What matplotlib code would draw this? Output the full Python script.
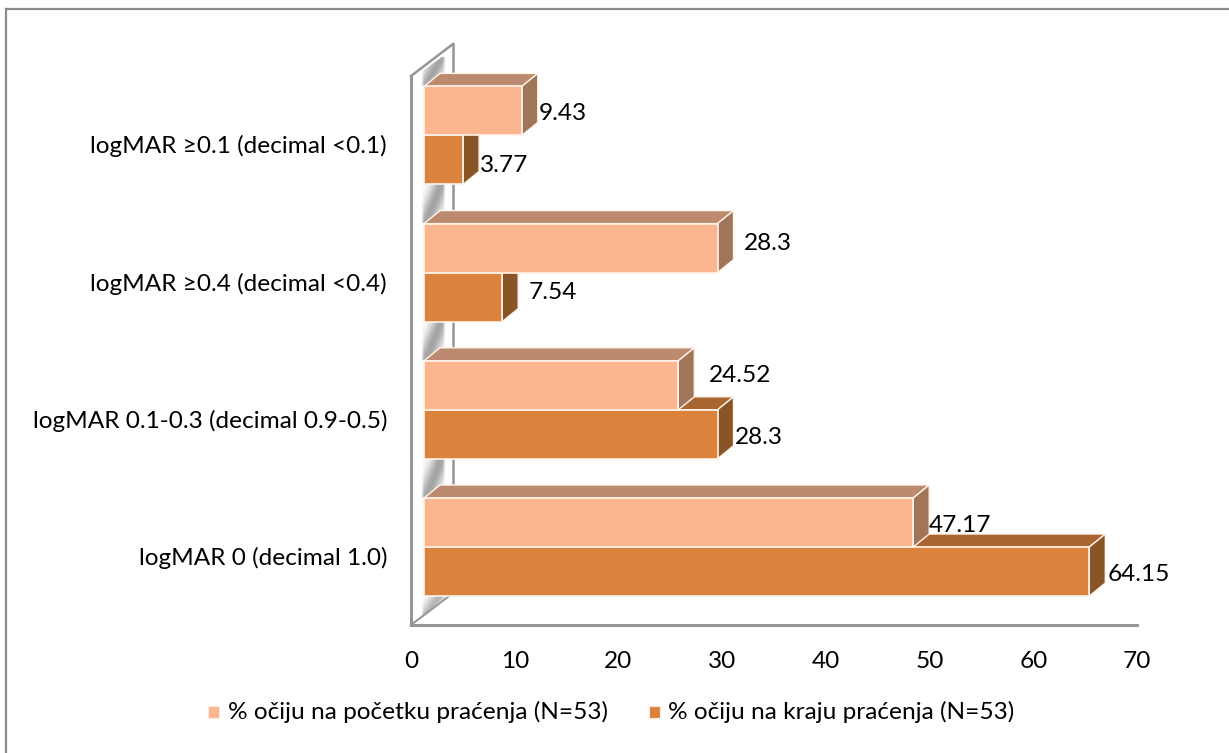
import numpy as np
import matplotlib
matplotlib.use('Agg')
import matplotlib.pyplot as plt
from matplotlib.patches import Polygon, Rectangle

plt.rcParams['font.family'] = ['Lato', 'DejaVu Sans']

categories = ['logMAR 0 (decimal 1.0)', 'logMAR 0.1-0.3 (decimal 0.9-0.5)',
              'logMAR ≥0.4 (decimal <0.4)', 'logMAR ≥0.1 (decimal <0.1)']
start_values = [47.17, 24.52, 28.3, 9.43]
end_values = [64.15, 28.3, 7.54, 3.77]
start_label = '% očiju na početku praćenja (N=53)'
end_label = '% očiju na kraju praćenja (N=53)'
x_ticks = [0, 10, 20, 30, 40, 50, 60, 70]

W, H = 1229, 753
FS = 17.6
fig = plt.figure(figsize=(W / 100, H / 100), dpi=100)
fig.patch.set_facecolor('white')
# only the top and left edges of the chart frame are in the crop
fig.add_artist(plt.Line2D([6.5 / W, 6.5 / W], [0, 1 - 8.5 / H], color='#8c8c8c', lw=1.6))
fig.add_artist(plt.Line2D([6.5 / W, 1], [1 - 8.5 / H, 1 - 8.5 / H], color='#8c8c8c', lw=1.6))

# axes box runs from the x axis line up to the top corner of the wall
ax_left, ax_right, ax_top, ax_bottom = 411, 1137, 44, 625
ax = fig.add_axes([ax_left / W, 1 - ax_bottom / H, (ax_right - ax_left) / W, (ax_bottom - ax_top) / H])
ax.set_xlim(0, 70)
group_px = 137.2
ylo, yhi = (547 - ax_bottom) / group_px, (547 - ax_top) / group_px
ax.set_ylim(ylo, yhi)
ax.axis('off')

px_x = 70 / (ax_right - ax_left)
px_y = 1 / group_px
x_off = 13 * px_x          # front plane of the bars sits this far from the wall
dx, dy = 16 * px_x, 13 * px_y
bar_h = 49 * px_y
wall_c = '#969696'
wall_d = 42 * px_x
wall_up = 32 * px_y


def shadow(y0, y1, clip=None, peak=0.62):
    # soft grey band on the wall behind the bars, y0 and y1 in data units
    x0, x1 = 10 * px_x, 35 * px_x
    u, v = np.meshgrid(np.linspace(0, 1, 40), np.linspace(0, 1, 40))
    ridge = 0.2 + 0.62 * v
    alpha = peak * np.exp(-((u - ridge) / 0.4) ** 2) * np.clip((1 - u) * 9, 0, 1) * np.clip(u * 9, 0, 1)
    rgba = np.zeros((40, 40, 4))
    rgba[..., :3] = 0.42
    rgba[..., 3] = alpha
    im = ax.imshow(rgba, extent=(x0, x1, y0, y1), aspect='auto', origin='lower', zorder=1,
                   interpolation='bilinear')
    if clip is not None:
        patch = Polygon(clip, closed=True, transform=ax.transData)
        im.set_clip_path(patch)


ax.add_patch(Polygon([(0, ylo), (wall_d, ylo + wall_up), (wall_d, yhi), (0, yhi - wall_up)],
                     closed=True, fc='white', ec='none', zorder=0))
for i in range(len(categories) - 1):
    shadow(i + 0.36, i + 0.64)
shadow(3 + bar_h, yhi - 14 * px_y,
       clip=[(10 * px_x, 3 + bar_h), (35 * px_x, 3 + bar_h), (35 * px_x, yhi - 10 * px_y), (10 * px_x, yhi - 28 * px_y)])
shadow(ylo + 8 * px_y, -bar_h + 1 * px_y, peak=0.5,
       clip=[(10 * px_x, -bar_h), (35 * px_x, -bar_h), (10 * px_x, ylo + 8 * px_y)])
ax.set_xlim(0, 70)
ax.set_ylim(ylo, yhi)
ax.plot([wall_d, wall_d], [ylo + wall_up, yhi], color=wall_c, lw=1.8, zorder=1.5, clip_on=False)
ax.plot([0, wall_d], [yhi - wall_up, yhi], color=wall_c, lw=1.8, zorder=1.5, clip_on=False)
ax.plot([0, 0], [ylo, yhi - wall_up], color=wall_c, lw=2.2, zorder=1.5, clip_on=False)
ax.plot([0, wall_d], [ylo, ylo + wall_up], color=wall_c, lw=1.5, zorder=1.5, clip_on=False)
ax.plot([0, 70], [ylo, ylo], color=wall_c, lw=2.2, zorder=1.5, clip_on=False)


def bar3d(y, value, front, top, side, z):
    x0 = x_off
    x1 = x_off + value
    ybot, ytop = y - bar_h, y
    ax.barh(ybot, value, height=bar_h, left=x0, align='edge', color=front, ec='#fff3ea', lw=1.2, zorder=z + 0.2)
    ax.add_patch(Polygon([(x0, ytop), (x0 + dx, ytop + dy), (x1 + dx, ytop + dy), (x1, ytop)],
                         closed=True, fc=top, ec='#fff3ea', lw=1.0, zorder=z))
    ax.add_patch(Polygon([(x1, ybot), (x1 + dx, ybot + dy), (x1 + dx, ytop + dy), (x1, ytop)],
                         closed=True, fc=side, ec='#fff3ea', lw=1.0, zorder=z + 0.1))


for i in range(len(categories)):
    bar3d(i, end_values[i], '#db823c', '#a8652f', '#8a5526', 2)
    bar3d(i + bar_h, start_values[i], '#fbb58f', '#bc8a6e', '#a07558', 3)

# value labels sit at their own small offsets in the original, in pixels
start_shift = [(16, -3), (31, 10), (26, 5), (17, -3)]
end_shift = [(18, -3), (17, -3), (26, 5), (17, -6)]
for i in range(len(categories)):
    ax.annotate(str(start_values[i]), (x_off + start_values[i], i + bar_h / 2),
                xytext=(start_shift[i][0] * 0.72, start_shift[i][1] * 0.72), textcoords='offset points',
                fontsize=FS, color='black', va='center', ha='left', zorder=5)
    ax.annotate(str(end_values[i]), (x_off + end_values[i], i - bar_h / 2),
                xytext=(end_shift[i][0] * 0.72, end_shift[i][1] * 0.72), textcoords='offset points',
                fontsize=FS, color='black', va='center', ha='left', zorder=5)

for tick in x_ticks:
    ax.text(tick, ylo - 36 * px_y, str(tick), ha='center', va='center', fontsize=FS, clip_on=False)
for i, name in enumerate(categories):
    ax.text(-24 * px_x, i - 11 * px_y, name, ha='right', va='center', fontsize=FS, clip_on=False)

# legend
fig.add_artist(Rectangle((208 / W, 1 - 718 / H), 11 / W, 12 / H, transform=fig.transFigure, fc='#fbb58f', ec='#fdebe0', lw=0.8))
fig.text(228 / W, 1 - 712 / H, start_label, fontsize=FS, va='center', ha='left')
fig.add_artist(Rectangle((649 / W, 1 - 718 / H), 11 / W, 12 / H, transform=fig.transFigure, fc='#db823c', ec='#fdebe0', lw=0.8))
fig.text(668 / W, 1 - 712 / H, end_label, fontsize=FS, va='center', ha='left')

fig.savefig('out.png', dpi=100)
